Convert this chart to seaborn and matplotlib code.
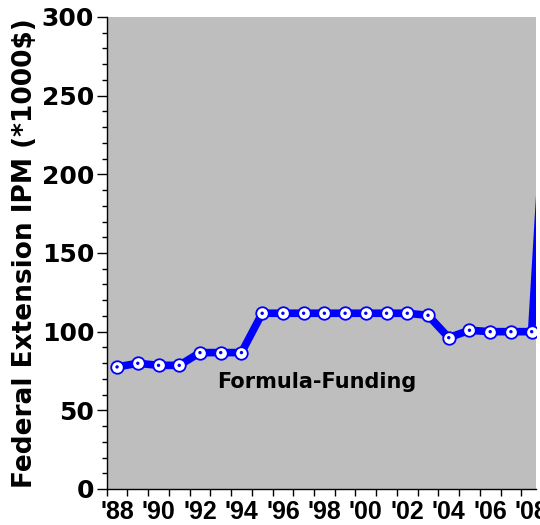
import numpy as np
import pandas as pd
import matplotlib
matplotlib.use('Agg')
import matplotlib.pyplot as plt
import seaborn as sns
from matplotlib.ticker import MultipleLocator, FixedLocator, FixedFormatter, NullFormatter

# federal extension IPM funding, thousands of dollars
years = [1988, 1989, 1990, 1991, 1992, 1993, 1994, 1995, 1996, 1997, 1998,
         1999, 2000, 2001, 2002, 2003, 2004, 2005, 2006, 2007, 2008, 2009]
funding = [77.6, 79.9, 78.6, 78.6, 86.7, 86.7, 86.7, 111.7, 111.7, 111.7, 111.7,
           111.7, 111.7, 111.7, 111.7, 110.4, 96.2, 100.9, 100.0, 100.0, 100.0, 320.0]
label_years = [1988, 1990, 1992, 1994, 1996, 1998, 2000, 2002, 2004, 2006, 2008]
tick_labels = ["'88", "'90", "'92", "'94", "'96", "'98", "'00", "'02", "'04", "'06", "'08"]

# each year is drawn in the middle of its slot
df = pd.DataFrame({'year': np.array(years) + 0.5, 'funding': funding})

sns.set_style('ticks')
plt.rcParams['font.family'] = ['DejaVu Sans']
plt.rcParams['font.weight'] = 'bold'
plt.rcParams['text.color'] = 'black'
plt.rcParams['xtick.color'] = 'black'
plt.rcParams['ytick.color'] = 'black'
plt.rcParams['xtick.labelcolor'] = 'black'
plt.rcParams['ytick.labelcolor'] = 'black'
plt.rcParams['axes.labelcolor'] = 'black'

fig = plt.figure(figsize=(5.4, 5.25), dpi=100)
ax = fig.add_axes([106.7 / 540, 36 / 525, (536 - 106.7) / 540, 472 / 525])
ax.set_facecolor('#bebebe')

sns.lineplot(data=df, x='year', y='funding', ax=ax, color='#0000ff', linewidth=5.5,
             marker='o', markersize=9, markerfacecolor='white',
             markeredgecolor='#0000ff', markeredgewidth=1.3)
sns.scatterplot(data=df, x='year', y='funding', ax=ax, color='#0000ff', s=6,
                edgecolor='none', zorder=5)

ax.set_xlim(1988, 1988 + (536 - 106.7) / 20.73)
ax.set_ylim(0, 300)

# ticks on year boundaries, labels centred on the year slots
ax.xaxis.set_major_locator(MultipleLocator(1))
ax.xaxis.set_major_formatter(NullFormatter())
ax.xaxis.set_minor_locator(FixedLocator(np.array(label_years) + 0.5))
ax.xaxis.set_minor_formatter(FixedFormatter(tick_labels))
ax.tick_params(axis='x', which='major', length=5, width=1)
ax.tick_params(axis='x', which='minor', length=0, pad=8)
for lab in ax.xaxis.get_minorticklabels():
    lab.set_fontfamily(['Liberation Sans', 'DejaVu Sans'])
    lab.set_fontsize(18)
    lab.set_fontweight('bold')

ax.yaxis.set_major_locator(MultipleLocator(50))
ax.yaxis.set_minor_locator(MultipleLocator(10))
ax.tick_params(axis='y', which='major', length=7, width=1, labelsize=18, pad=2)
ax.tick_params(axis='y', which='minor', length=3.5, width=1)
for lab in ax.get_yticklabels():
    lab.set_fontweight('bold')

for s in ['top', 'right']:
    ax.spines[s].set_visible(False)
for s in ['left', 'bottom']:
    ax.spines[s].set_color('black')
    ax.spines[s].set_linewidth(1)

ax.set_xlabel('')
ax.set_ylabel('Federal Extension IPM (*1000$)', fontsize=19, fontweight='bold', labelpad=3)

ax.text(1998.15, 68, 'Formula-Funding', fontsize=15, fontweight='bold',
        ha='center', va='center', color='black')

fig.savefig('out.png', dpi=100)
